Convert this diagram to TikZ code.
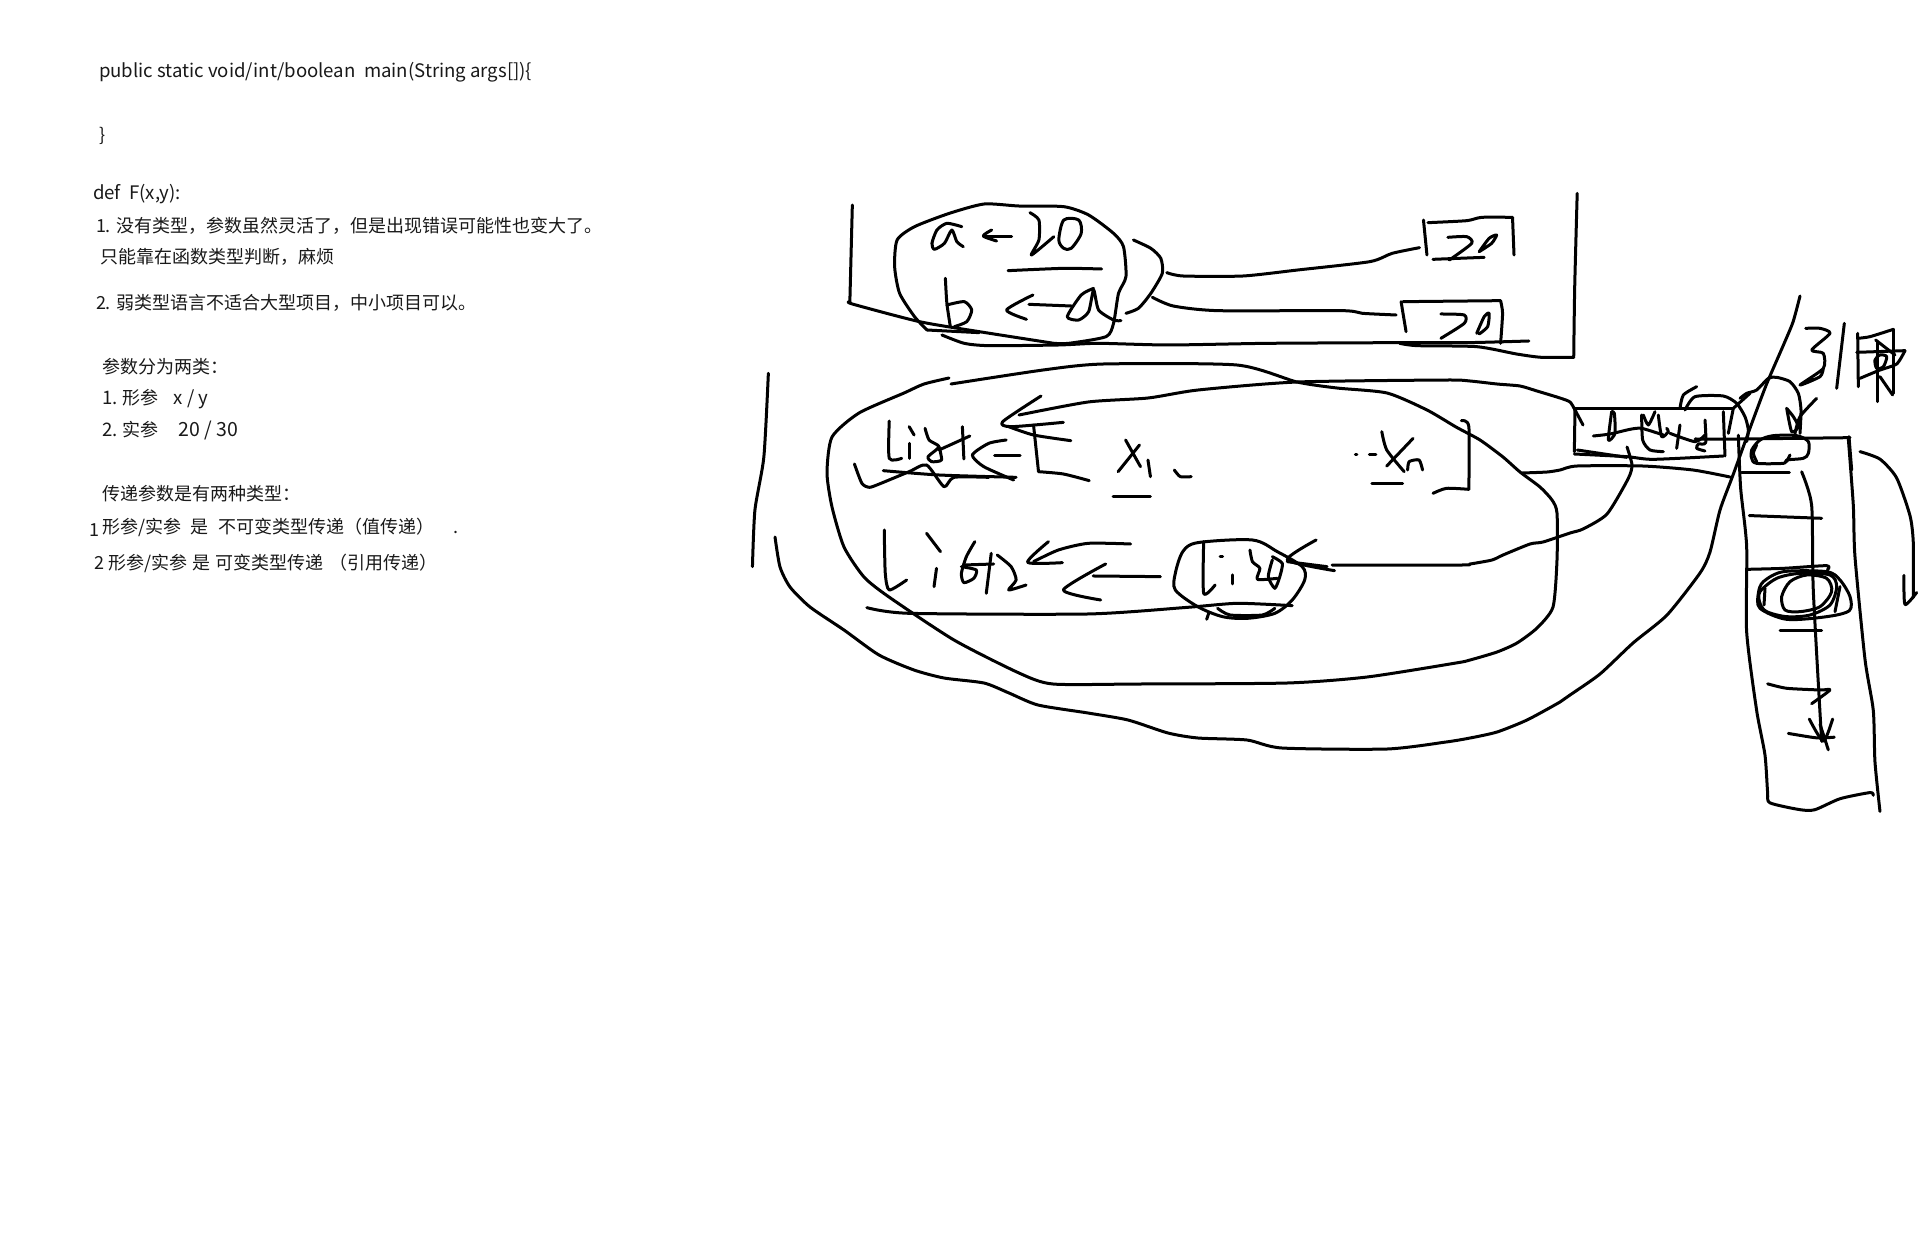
\documentclass[tikz,border=0pt]{standalone}
\usepackage{fontspec}
\setmainfont{Noto Sans CJK SC}
\newcommand\inkline[1]{\draw[ink] plot[smooth,tension=.4] coordinates {#1};}
\newcommand\inkloop[1]{\draw[ink] plot[smooth cycle,tension=.5] coordinates {#1};}
\newcommand\lat[1]{{\fontsize{18.6}{22}\selectfont #1}}
\tikzset{
  ink/.style={line width=3pt,line cap=round,line join=round,black},
  note/.style={anchor=base west,inner sep=0pt,outer sep=0pt,font=\fontsize{18}{22}\selectfont,text=black!90},
  zoomA/.style={shift={(820,180)},xscale=0.4975,yscale=0.3333},
  zoomB/.style={shift={(740,360)},xscale=0.4975,yscale=0.3333},
  zoomC/.style={shift={(1500,283)},xscale=0.3333,yscale=0.342},
  zoomT/.style={shift={#1},scale=0.3333},
}
\begin{document}
\begin{tikzpicture}[x=1pt,y=-1pt]
\useasboundingbox (0,0) rectangle (1922,1251);
\fill[white] (0,0) rectangle (1922,1251);
% texts
\node[note] (t1) at (99,77) {\lat{public static void/int/boolean\ \ main(String args[])\{}};
\node[note] (t2) at (99,141) {\}};
\node[note] (t3) at (93,199) {\lat{def\ \ F(x,y):}};
\node[note] (t4) at (96,232) {1. 没有类型，参数虽然灵活了，但是出现错误可能性也变大了。};
\node[note] (t5) at (100,263) {只能靠在函数类型判断，麻烦};
\node[note] (t6) at (96,309) {2. 弱类型语言不适合大型项目，中小项目可以。};
\node[note] (t7) at (102,373) {参数分为两类：};
\node[note] (t8) at (102,404) {\lat{1.} 形参\hspace{15pt}\lat{x / y}};
\node[note] (t9) at (102,436) {\lat{2.} 实参\hspace{20pt}{\fontsize{19.5}{22}\selectfont 20 / 30}};
\node[note] (t10) at (102,500) {传递参数是有两种类型：};
\node[note] (t11) at (89,536) {1};
\node[note] (t12) at (102,533) {形参/实参\hspace{9.5pt}是\hspace{9.5pt}不可变类型传递（值传递）};
\node[note] (t13) at (453,533) {.};
\node[note] (t14) at (94,569) {2 形参/实参\hspace{5pt}是\hspace{5pt}可变类型传递\hspace{6pt}（引用传递）};

% long strokes in page coordinates
\inkline{(775,537)(780,567)(790,587)(810,607)(844,630)(879,655)(914,670)(944,678)(984,683)(1009,693)(1038,705)(1088,713)(1128,720)(1168,733)(1198,738)(1247,740)(1282,748)(1387,749)(1446,742)(1470,738)(1497,732)(1527,720)(1560,702)(1570,695)(1600,674)(1633,643)(1667,615)(1700,573)(1710,552)(1720,510)(1733,475)(1753,420)(1767,383)(1783,346)(1793,322)(1800,296)}
\inkline{(949,378)(924,384)(904,393)(859,413)(832,437)(827,473)(832,507)(844,547)(864,577)(889,597)(954,640)(1019,673)(1053,684)(1138,684)(1287,683)(1367,677)(1456,663)(1470,660)(1497,652)(1517,643)(1537,628)(1553,607)(1557,560)(1557,513)(1552,500)(1540,487)(1520,472)(1503,457)(1480,440)(1456,427)(1427,410)(1387,393)(1337,388)(1297,382)(1237,365)(1103,364)(1043,370)(951,384)}
\inkline{(1019,415)(1088,402)(1148,398)(1198,390)(1297,382)(1446,380)(1470,381)(1497,384)(1520,386)(1537,391)(1560,398)(1570,402)(1575,410)(1583,425)}
\inkline{(1332,565)(1461,565)(1470,564)(1492,560)(1503,555)(1530,544)(1543,542)(1570,533)(1583,529)(1607,514)(1628,479)(1632,465)(1627,447)}
\inkline{(1522,473)(1547,472)(1560,470)(1577,466)(1643,466)(1693,470)(1730,477)}

% top frame
\begin{scope}[zoomA]
\inkline{(65,75)(60,365)}
\inkline{(60,365)(65,372)(200,425)(320,455)(470,490)}
\inkline{(245,465)(290,490)(340,497)(480,495)(560,490)(700,495)(900,490)(1160,488)(1300,488)(1425,483)}
\inkline{(1165,490)(1200,497)(1320,500)(1400,522)(1450,532)(1515,532)}
\inkline{(1515,532)(1517,320)(1522,40)}
\inkline{(215,450)(190,410)(160,340)(150,260)(155,180)(190,140)(260,100)(330,72)(400,78)(490,80)(540,105)(590,160)(610,200)(615,290)(600,340)(590,430)(575,470)(500,490)(470,490)}
\inkline{(215,450)(320,458)}
\inkline{(285,140)(255,130)(235,150)(225,190)(230,208)(250,190)(265,150)(275,185)(288,200)}
\inkline{(385,170)(330,170)}
\inkline{(345,150)(328,168)(355,183)}
\inkline{(422,98)(440,120)(440,180)(425,225)(470,170)}
\inkloop{(480,180)(490,120)(520,120)(525,160)(505,205)(490,205)}
\inkline{(378,272)(490,265)(566,267)}
\inkline{(252,295)(255,370)(262,440)}
\inkline{(255,375)(290,365)(305,390)(295,425)(270,440)}
\inkline{(505,378)(420,373)}
\inkline{(428,345)(375,390)(415,418)}
\inkline{(550,325)(525,345)(497,410)(520,420)(540,395)(550,330)(560,390)(590,420)(605,422)}
\inkline{(630,180)(665,205)(685,235)(688,280)(665,340)(640,385)(615,400)}
\inkline{(697,278)(730,288)(850,288)(960,270)(1105,245)(1150,220)(1205,203)}
\inkline{(1213,120)(1220,225)}
\inkline{(1222,128)(1300,122)(1330,112)(1392,112)}
\inkline{(1392,112)(1395,225)}
\inkline{(1262,172)(1300,170)(1310,190)(1265,240)}
\inkline{(1325,215)(1345,175)(1360,165)(1350,190)(1325,215)}
\inkline{(1232,238)(1335,232)}
\inkline{(668,352)(710,378)(800,392)(1050,392)(1090,400)(1158,405)}
\inkline{(1168,365)(1178,455)}
\inkline{(1172,365)(1368,362)}
\inkline{(1368,362)(1372,400)(1368,490)}
\inkline{(1248,402)(1295,405)(1295,430)(1248,475)}
\inkline{(1320,460)(1335,410)(1345,400)(1342,440)(1325,462)}
\end{scope}

% middle
\begin{scope}[zoomB]
\inkline{(57,40)(48,290)(30,450)(25,620)}
\inkline{(605,108)(528,185)(545,200)(650,187)}
\inkline{(540,200)(590,225)(665,242)}
\inkline{(590,195)(600,335)}
\inkline{(600,335)(650,342)(702,362)}
\inkline{(300,183)(300,295)(325,295)}
\inkline{(340,200)(350,225)}
\inkline{(340,250)(340,295)}
\inkline{(372,205)(380,240)(400,260)(378,290)(385,305)(405,300)(400,260)}
\inkline{(462,228)(400,270)}
\inkline{(447,200)(450,297)}
\inkline{(535,240)(500,250)(467,285)(490,320)(550,360)}
\inkline{(512,288)(563,288)}
\inkline{(230,312)(245,370)(260,382)(280,372)(340,335)(375,315)(410,380)(430,352)(500,352)}
\inkline{(288,332)(400,345)(555,352)}
\inkline{(775,240)(805,320)}
\inkline{(803,255)(760,335)}
\inkline{(820,300)(825,350)}
\inkline{(873,330)(885,350)(907,350)}
\inkline{(750,410)(825,410)}
\inkline{(1237,283)(1240,283)}
\inkline{(1265,283)(1278,283)}
\inkline{(1290,215)(1300,270)(1335,335)}
\inkline{(1353,235)(1300,318)}
\inkline{(1342,330)(1345,305)(1365,300)(1372,330)}
\inkline{(1270,370)(1332,370)}
\inkline{(1450,182)(1465,200)(1465,388)}
\inkline{(1465,388)(1420,385)(1393,400)}
\inkline{(290,510)(292,640)(300,690)(335,660)}
\inkline{(375,520)(403,575)}
\inkline{(395,625)(390,680)}
\inkline{(472,545)(455,590)(445,640)(450,668)(470,655)(475,630)(445,620)}
\inkline{(505,580)(495,700)}
\inkline{(450,615)(510,612)}
\inkline{(517,585)(545,620)(555,660)(540,690)(575,675)}
\inkline{(785,552)(700,550)(640,570)(590,605)}
\inkline{(620,545)(578,607)(648,608)}
\inkline{(845,650)(710,648)}
\inkline{(735,612)(650,690)(725,720)}
\inkloop{(890,575)(920,548)(1030,540)(1080,575)(1130,620)(1135,660)(1110,720)(1075,760)(1020,775)(970,770)(920,740)(875,690)(875,640)}
\inkline{(932,545)(932,700)(955,675)}
\inkline{(965,590)(970,590)}
\inkline{(990,645)(990,672)}
\inkline{(1025,570)(1030,605)(1045,625)(1040,658)(1080,655)}
\inkline{(1070,600)(1062,650)(1075,685)(1085,650)(1090,610)(1070,590)}
\inkline{(1158,540)(1100,600)(1195,632)}
\inkline{(1100,605)(1180,620)}
\inkline{(255,743)(340,760)(700,762)(900,742)(1000,730)(1110,737)}
\inkline{(960,745)(985,765)(1050,765)(1075,745)}
\inkline{(942,760)(938,778)}
\end{scope}

% the small box
\begin{scope}[zoomT={(1560,370)}]
\inkline{(45,115)(43,245)}
\inkline{(45,115)(520,115)}
\inkline{(43,252)(200,260)(280,268)(490,258)}
\inkline{(52,240)(200,262)}
\inkline{(490,125)(495,258)}
\inkline{(520,115)(505,190)}
\inkline{(155,125)(145,210)(165,190)(163,130)(155,125)}
\inkline{(100,198)(150,192)(210,178)(245,175)(310,195)}
\inkline{(245,135)(248,210)(270,240)(310,245)}
\inkline{(250,135)(265,165)(285,125)}
\inkline{(295,135)(305,200)(325,185)(320,175)}
\inkline{(360,165)(350,235)}
\inkline{(330,190)(405,215)(435,195)}
\inkline{(435,150)(437,218)(415,222)(410,235)(435,243)}
\inkline{(410,50)(370,75)(360,115)}
\inkline{(375,120)(405,80)(490,78)(530,100)(555,140)(565,180)(560,215)}
\inkline{(520,115)(570,70)}
\end{scope}

% finger, top of column, word
\begin{scope}[zoomT={(1740,290)}]
\inkline{(0,325)(20,310)(50,300)(85,265)(110,262)(150,275)(175,310)(183,360)(180,430)}
\inkline{(230,325)(180,380)(165,430)}
\inkline{(140,355)(155,425)(175,410)(160,380)(140,355)}
\inkline{(-135,447)(0,447)(330,443)}
\inkline{(327,440)(335,540)}
\inkloop{(35,480)(60,450)(100,437)(170,437)(205,455)(205,490)(190,505)(140,510)(130,520)(50,520)(35,505)}
\inkline{(50,465)(40,490)(50,515)}
\inkline{(150,495)(140,515)}
\inkline{(197,115)(240,115)(270,130)(215,180)(250,190)(250,235)(180,285)(240,260)(250,235)}
\inkline{(313,100)(290,295)}
\inkline{(353,130)(355,290)}
\inkline{(353,145)(390,140)(460,118)}
\inkline{(460,118)(460,310)}
\inkline{(350,187)(495,182)}
\inkline{(495,182)(470,222)(420,240)(360,265)}
\inkline{(407,150)(465,195)}
\inkline{(412,155)(412,335)}
\inkline{(420,260)(458,315)}
\inkloop{(405,210)(420,195)(440,200)(430,230)(410,235)}
\end{scope}

% scribbled oval
\begin{scope}[zoomT={(1740,550)}]
\inkline{(20,58)(130,55)(260,47)(262,60)}
\inkloop{(55,130)(70,95)(130,65)(260,65)(300,90)(330,140)(328,182)(260,200)(140,208)(60,175)}
\inkloop{(60,125)(110,85)(180,70)(270,75)(290,110)(270,165)(210,195)(140,200)(80,185)(60,160)}
\inkloop{(125,140)(150,95)(200,75)(260,85)(275,125)(240,170)(180,185)(135,180)}
\inkline{(75,115)(72,165)}
\inkline{(300,110)(285,185)}
\inkline{(120,240)(245,240)}
\end{scope}

% column
\begin{scope}[zoomC]
\inkline{(1045,455)(1060,650)(1065,800)(1095,1100)(1120,1250)(1125,1400)(1140,1545)}
\inkline{(715,445)(722,600)(740,770)(740,1020)(770,1250)(795,1380)(803,1490)(810,1520)(900,1540)(945,1540)(1020,1508)(1110,1490)(1120,1498)}
\inkline{(725,555)(868,555)}
\inkline{(748,680)(965,688)}
\inkline{(803,1172)(860,1185)(960,1190)(990,1190)(935,1230)}
\inkline{(865,1317)(950,1330)(1003,1328)}
\inkline{(905,552)(935,650)(940,900)(965,1340)}
\inkline{(928,1275)(970,1340)(998,1275)}
\inkline{(960,1290)(985,1365)}
\inkline{(1080,493)(1140,515)(1190,570)(1230,680)(1240,760)(1240,920)}
\inkline{(1212,855)(1215,940)(1250,905)}
\end{scope}
\end{tikzpicture}
\end{document}
